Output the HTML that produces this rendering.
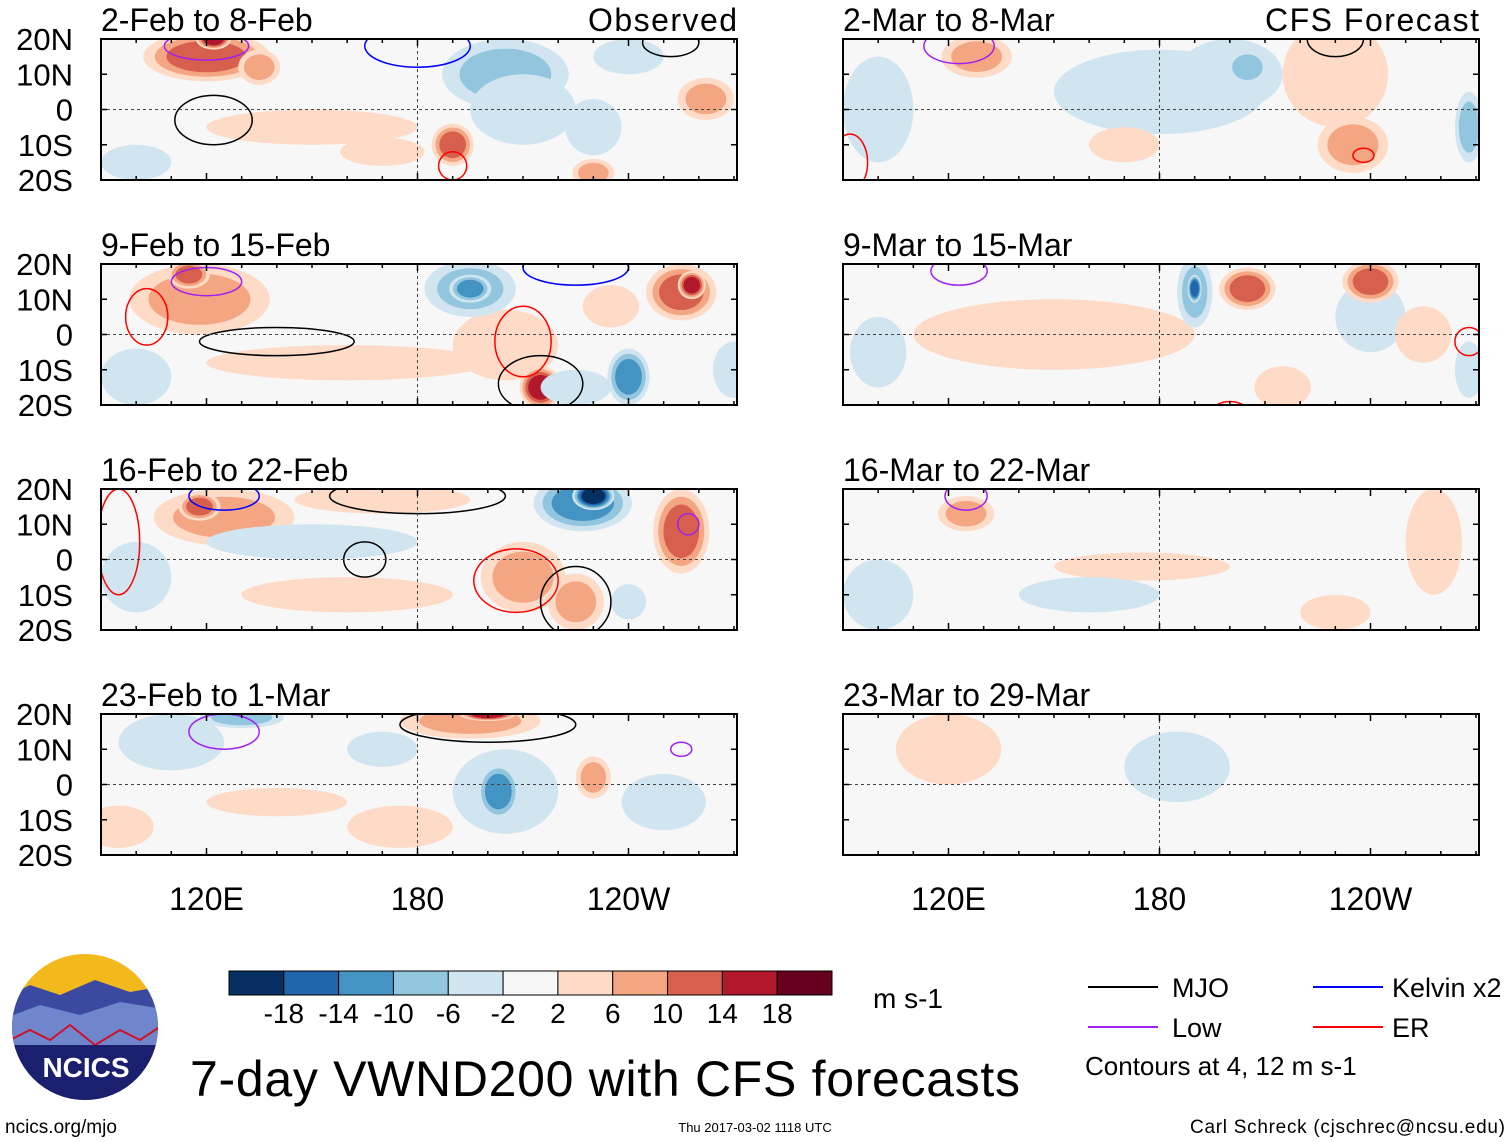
<!DOCTYPE html>
<html><head><meta charset="utf-8"><style>
html,body{margin:0;padding:0;background:#fff;}
svg{display:block;font-family:"Liberation Sans",sans-serif;}
</style></head><body>
<svg id="c" width="1510" height="1142" viewBox="0 0 1510 1142" xmlns="http://www.w3.org/2000/svg"></svg>
<script>
const colors=['#053061','#2166ac','#4393c3','#92c5de','#d1e5f0','#f7f7f7','#fddbc7','#f4a582','#d6604d','#b2182b','#67001f'];
const cbLabels=['-18','-14','-10','-6','-2','2','6','10','14','18'];
const panelTitles=['2-Feb to 8-Feb','9-Feb to 15-Feb','16-Feb to 22-Feb','23-Feb to 1-Mar','2-Mar to 8-Mar','9-Mar to 15-Mar','16-Mar to 22-Mar','23-Mar to 29-Mar'];
const latTicks=[20,10,0,-10,-20];
const latLabels=['20N','10N','0','10S','20S'];
const lonTicks=[120,180,240];
const lonLabels=['120E','180','120W'];
// blobs: [lon, lat, rxDeg, ryDeg, level]
const blobs0=[[120,15,18,7,8],[122,20,5,3,9],[150,-5,30,5,6],[170,-12,12,4,6],[190,-10,6,6,8],[230,-18,6,4,7],[262,3,8,6,7],[135,12,6,5,7],[205,10,18,10,3],[210,0,15,10,4],[230,-5,8,8,4],[100,-15,10,5,4],[240,15,10,5,4]];
const blobs1=[[118,10,20,10,7],[115,17,6,4,8],[160,-8,40,5,6],[205,-3,15,10,6],[215,-15,6,6,9],[255,12,10,8,8],[258,14,4,4,9],[235,8,8,6,6],[195,13,13,8,3],[195,13,6,4,2],[240,-12,6,8,2],[100,-12,10,8,4],[270,-10,6,8,4],[225,-15,10,5,4]];
const blobs2=[[125,12,20,8,7],[118,15,6,4,8],[255,8,8,12,8],[210,-5,12,10,7],[225,-12,8,8,7],[170,17,25,4,6],[160,-10,30,5,6],[227,16,14,8,2],[230,18,6,4,0],[150,5,30,5,4],[240,-12,5,5,4],[100,-5,10,10,4]];
const blobs3=[[195,18,20,5,7],[200,20,8,2,9],[175,-12,15,6,6],[230,2,5,6,7],[140,-5,20,4,6],[95,-12,10,6,6],[205,-2,15,12,4],[203,-2,6,8,2],[170,10,10,5,4],[250,-5,12,8,4],[110,12,15,8,4],[130,19,12,3,3]];
const blobs4=[[180,5,30,12,4],[200,10,15,10,4],[205,12,6,5,3],[100,0,10,15,4],[268,-5,4,10,3],[230,10,15,15,6],[235,-10,10,8,7],[128,15,10,6,7],[170,-10,10,5,6]];
const blobs5=[[150,0,40,10,6],[190,12,5,10,3],[190,13,2,4,1],[240,5,10,10,4],[268,-10,4,8,4],[100,-5,8,10,4],[205,13,8,6,8],[240,15,8,6,8],[215,-15,8,6,6],[255,0,8,8,6]];
const blobs6=[[125,13,8,5,7],[258,5,8,15,6],[175,-2,25,4,6],[230,-15,10,5,6],[100,-10,10,10,4],[160,-10,20,5,4]];
const blobs7=[[120,10,15,10,6],[185,5,15,10,4]];
const allBlobs=[blobs0,blobs1,blobs2,blobs3,blobs4,blobs5,blobs6,blobs7];
// contours: [lon, lat, rxDeg, ryDeg, type]
const contours0=[[122,-3,11,7,'k'],[180,18,15,6,'b'],[252,19,8,4,'k'],[190,-16,4,4,'r'],[120,18,12,4,'p']];
const contours1=[[210,-2,8,10,'r'],[140,-2,22,4,'k'],[103,5,6,8,'r'],[225,19,15,5,'b'],[215,-14,12,8,'k'],[120,15,10,4,'p']];
const contours2=[[208,-6,12,9,'r'],[225,-12,10,10,'k'],[165,0,6,5,'k'],[180,18,25,5,'k'],[257,10,3,3,'p'],[95,5,6,15,'r'],[125,18,10,4,'b']];
const contours3=[[200,17,25,5,'k'],[125,15,10,5,'p'],[255,10,3,2,'p']];
const contours4=[[123,18,10,5,'p'],[230,20,8,5,'k'],[238,-13,3,2,'r'],[92,-15,5,8,'r']];
const contours5=[[123,18,8,4,'p'],[268,-2,4,4,'r'],[200,-22,5,3,'r']];
const contours6=[[125,18,6,4,'p']];
const contours7=[];
const allContours=[contours0,contours1,contours2,contours3,contours4,contours5,contours6,contours7];
const cmap={k:'#000',b:'#0000ff',r:'#ff0000',p:'#a020f0'};

const NS='http://www.w3.org/2000/svg';
const svg=document.getElementById('c');
function mk(t,a,p){const e=document.createElementNS(NS,t);for(const k in a)e.setAttribute(k,a[k]);(p||svg).appendChild(e);return e;}
function txt(x,y,s,size,anchor,p){const e=mk('text',{x:x,y:y,'font-size':size,'text-anchor':anchor||'start',fill:'#000'},p);e.textContent=s;return e;}

const PW=636, PH=141, pxPerDeg=211/60;
const colX=[101,843], rowY=[39,264,489,714];
for(let i=0;i<8;i++){
  const x0=colX[Math.floor(i/4)], y0=rowY[i%4];
  const xs=lon=>x0+(lon-90)*pxPerDeg;
  const ys=lat=>y0+(20-lat)*PH/40;
  const g=mk('g',{});
  
  
  const cp=mk('clipPath',{id:'cp'+i},g);
  mk('rect',{x:x0,y:y0,width:PW,height:PH},cp);
  const inner=mk('g',{'clip-path':'url(#cp'+i+')'},g);
  mk('rect',{x:x0,y:y0,width:PW,height:PH,fill:colors[5]},inner);
  allBlobs[i].forEach(b=>{
    const [lon,lat,rx,ry,lev]=b;
    const steps=lev>5?lev-5:5-lev;
    for(let k=0;k<steps;k++){
      const L=lev>5?6+k:4-k;
      const f=1-k*0.55/Math.max(steps,1);
      const e=mk('ellipse',{cx:xs(lon),cy:ys(lat),rx:rx*pxPerDeg*f,ry:ry*PH/40*f,fill:colors[L]},inner);
      
      
    }
  });
  allContours[i].forEach(c=>{
    const e=mk('ellipse',{cx:xs(c[0]),cy:ys(c[1]),rx:c[2]*pxPerDeg,ry:c[3]*PH/40,fill:'none',stroke:cmap[c[4]],'stroke-width':1.5},inner);
    
    
  });
  mk('line',{x1:x0,x2:x0+PW,y1:ys(0),y2:ys(0),stroke:'#444','stroke-dasharray':'3,3','stroke-width':1},inner);
  mk('line',{x1:xs(180),x2:xs(180),y1:y0,y2:y0+PH,stroke:'#444','stroke-dasharray':'3,3','stroke-width':1},inner);
  mk('rect',{x:x0,y:y0,width:PW,height:PH,fill:'none',stroke:'#000','stroke-width':2},g);
  for(let lon=100;lon<=270;lon+=10){
    const len=(lon%60===0)?7:4;
    mk('line',{x1:xs(lon),x2:xs(lon),y1:y0,y2:y0+len,stroke:'#000','stroke-width':1.5},g);
    mk('line',{x1:xs(lon),x2:xs(lon),y1:y0+PH,y2:y0+PH-len,stroke:'#000','stroke-width':1.5},g);
  }
  latTicks.forEach(l=>{
    mk('line',{x1:x0,x2:x0+6,y1:ys(l),y2:ys(l),stroke:'#000','stroke-width':1.5},g);
    mk('line',{x1:x0+PW,x2:x0+PW-6,y1:ys(l),y2:ys(l),stroke:'#000','stroke-width':1.5},g);
  });
  const t=txt(x0,y0-8,panelTitles[i],32,'start',g);
  
  
  if(i<4){latTicks.forEach((l,j)=>{const e=txt(73,ys(l)+11,latLabels[j],31,'end',g);
    
    });}
  if(i%4===3){lonTicks.forEach((l,j)=>{const e=txt(xs(l),910,lonLabels[j],32,'middle',g);
    
    });}
}
let t1=txt(588,31,'Observed',32,'start');t1.setAttribute('textLength','149');
let t2=txt(1265,31,'CFS Forecast',32,'start');t2.setAttribute('textLength','214');

// colorbar
const cb=mk('g',{});
const cbx=229,cbw=603/11;
colors.forEach((c,k)=>mk('rect',{x:cbx+k*cbw,y:971,width:cbw,height:24,fill:c,stroke:'#000','stroke-width':1},cb));
cbLabels.forEach((s,k)=>txt(cbx+(k+1)*cbw,1023,s,28,'middle',cb));
let u=txt(873,1008,'m s-1',28,'start');

// legend
const lg=mk('g',{});
[[1088,987,'#000','MJO',1172],[1088,1027,'#a020f0','Low',1172],[1313,987,'#0000ff','Kelvin x2',1392],[1313,1027,'#ff0000','ER',1392]].forEach(d=>{
  mk('line',{x1:d[0],x2:d[0]+70,y1:d[1],y2:d[1],stroke:d[2],'stroke-width':2},lg);
  txt(d[4],d[1]+10,d[3],27,'start',lg);
});
txt(1085,1075,'Contours at 4, 12 m s-1',26,'start',lg);

// logo
const lo=mk('g',{});
mk('clipPath',{id:'lc'},lo).appendChild(document.createElementNS(NS,'circle'));
const lcc=document.querySelector('#lc circle');lcc.setAttribute('cx',85);lcc.setAttribute('cy',1027);lcc.setAttribute('r',73);
const lgg=mk('g',{'clip-path':'url(#lc)'},lo);
mk('rect',{x:0,y:950,width:170,height:160,fill:'#f2b81c'},lgg);
mk('path',{d:'M0 1000 L30 985 L60 995 L95 980 L130 992 L170 985 L170 1110 L0 1110Z',fill:'#3b4aa0'},lgg);
mk('path',{d:'M0 1020 L40 1005 L80 1015 L120 1002 L170 1010 L170 1110 L0 1110Z',fill:'#6f86cc'},lgg);
mk('path',{d:'M0 1045 L30 1030 L50 1040 L70 1025 L95 1045 L120 1030 L140 1040 L170 1020',fill:'none',stroke:'#d0102a','stroke-width':2},lgg);
mk('rect',{x:0,y:1045,width:170,height:70,fill:'#1a1f6e'},lgg);
const nt=txt(86,1077,'NCICS',28,'middle',lo);nt.setAttribute('fill','#fff');nt.setAttribute('font-weight','bold');

let tt=txt(190,1096,'7-day VWND200 with CFS forecasts',50,'start');tt.setAttribute('textLength','830');
let f1=txt(5,1133,'ncics.org/mjo',19,'start');
let f2=txt(755,1132,'Thu 2017-03-02 1118 UTC',13,'middle');
let f3=txt(1190,1133,'Carl Schreck (cjschrec@ncsu.edu)',19,'start');f3.setAttribute('textLength','315');
</script>
</body></html>
